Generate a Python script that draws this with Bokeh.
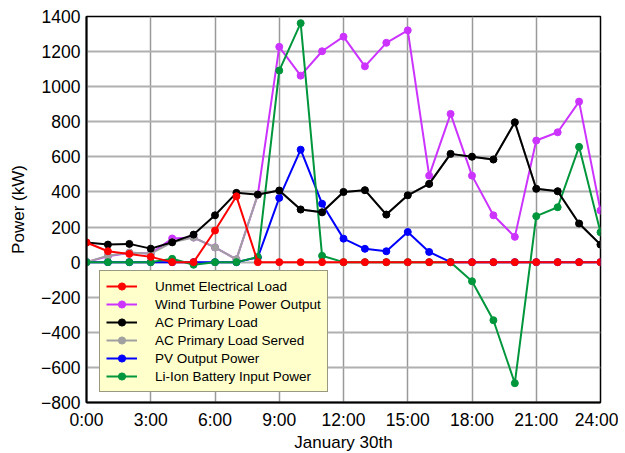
from bokeh.plotting import figure
from bokeh.models import Legend, LegendItem, FixedTicker, Range1d
from bokeh.embed import file_html
from bokeh.resources import INLINE

# ---- data (hourly, January 30th) ----
hours = list(range(25))
x_tick_values = [0, 3, 6, 9, 12, 15, 18, 21, 24]
x_tick_labels = ["0:00", "3:00", "6:00", "9:00", "12:00", "15:00", "18:00", "21:00", "24:00"]
y_tick_values = [-800, -600, -400, -200, 0, 200, 400, 600, 800, 1000, 1200, 1400]

unmet_load = [112, 62, 47, 30, 0, 0, 180, 375, 0, 0, 0, 0, 0, 0, 0, 0, 0, 0, 0, 0, 0, 0, 0, 0, 0]
wind_output = [0, 34, 53, 49, 135, 140, 84, 16, 385, 1227, 1063, 1202, 1285, 1116, 1250, 1321,
               493, 845, 493, 267, 144, 693, 740, 915, 294]
ac_load = [112, 100, 104, 77, 113, 157, 267, 395, 385, 408, 300, 284, 400, 410, 271, 381,
           446, 617, 601, 585, 797, 418, 404, 220, 100]
ac_served = [0, 37, 55, 48, 113, 140, 84, 16, 385, 408, 300, 284, 400, 410, 271, 381,
             446, 617, 601, 585, 797, 418, 404, 220, 100]
pv_output = [0, 0, 0, 0, 0, 0, 0, 0, 27, 366, 641, 333, 134, 76, 62, 172, 58, 0, 0, 0, 0, 0, 0, 0, 0]
battery_input = [0, 0, 0, 0, 19, -15, 0, 0, 29, 1092, 1362, 36, 0, 0, 0, 0, 0, 0,
                 -109, -331, -690, 262, 313, 657, 170]

series_names = ["Unmet Electrical Load", "Wind Turbine Power Output", "AC Primary Load",
                "AC Primary Load Served", "PV Output Power", "Li-Ion Battery Input Power"]
series_values = [unmet_load, wind_output, ac_load, ac_served, pv_output, battery_input]
series_colors = ["#ff0000", "#cc33ff", "#000000", "#a0a0a0", "#0000ff", "#00963c"]
draw_order = [1, 4, 3, 5, 2, 0]

FONT = "Liberation Sans"

p = figure(frame_width=514, frame_height=386,
           min_border_left=86, min_border_top=16, min_border_right=18, min_border_bottom=48,
           x_range=Range1d(0, 24), y_range=Range1d(-800, 1400),
           output_backend="svg", toolbar_location=None,
           x_axis_label="January 30th", y_axis_label="Power (kW)")

renderers = {}
for i in draw_order:
    ln = p.line(hours, series_values[i], line_color=series_colors[i], line_width=2)
    sc = p.scatter(hours, series_values[i], size=7, fill_color=series_colors[i],
                   line_color=series_colors[i])
    renderers[i] = [ln, sc]

# axes
p.xaxis.ticker = FixedTicker(ticks=x_tick_values)
p.xaxis.major_label_overrides = {v: l for v, l in zip(x_tick_values, x_tick_labels)}
p.yaxis.ticker = FixedTicker(ticks=y_tick_values)
for ax in p.axis:
    ax.major_tick_out = 0
    ax.major_tick_in = 0
    ax.minor_tick_out = 0
    ax.minor_tick_in = 0
    ax.axis_line_width = 2
    ax.axis_line_color = "black"
    ax.major_label_text_font = FONT
    ax.major_label_text_font_size = "17.5px"
    ax.major_label_text_color = "black"
    ax.axis_label_text_font = FONT
    ax.axis_label_text_font_size = "17px"
    ax.axis_label_text_font_style = "normal"
    ax.axis_label_text_color = "black"
p.yaxis.major_label_standoff = 6
p.yaxis.axis_label_standoff = 10
p.xaxis.major_label_standoff = 7
p.xaxis.axis_label_standoff = 0

p.xgrid.grid_line_color = "#999999"
p.xgrid.grid_line_width = 1.5
p.ygrid.grid_line_color = "#b0b0b0"
p.ygrid.grid_line_width = 2

p.outline_line_color = "black"
p.outline_line_width = 1.5
p.outline_line_alpha = 1
p.background_fill_color = "white"
p.border_fill_color = "white"

items = [LegendItem(label=series_names[i], renderers=renderers[i]) for i in range(6)]
legend = Legend(items=items, location=(13, 10))
legend.background_fill_color = "#ffffcc"
legend.background_fill_alpha = 1
legend.border_line_color = "#333333"
legend.border_line_width = 1
legend.padding = 6
legend.spacing = 0
legend.margin = 0
legend.glyph_width = 31
legend.glyph_height = 18
legend.label_height = 18
legend.label_standoff = 18
legend.label_text_font = FONT
legend.label_text_font_size = "13.5px"
legend.label_text_color = "black"
p.add_layout(legend)

open("out.html", "w").write(file_html(p, INLINE))
